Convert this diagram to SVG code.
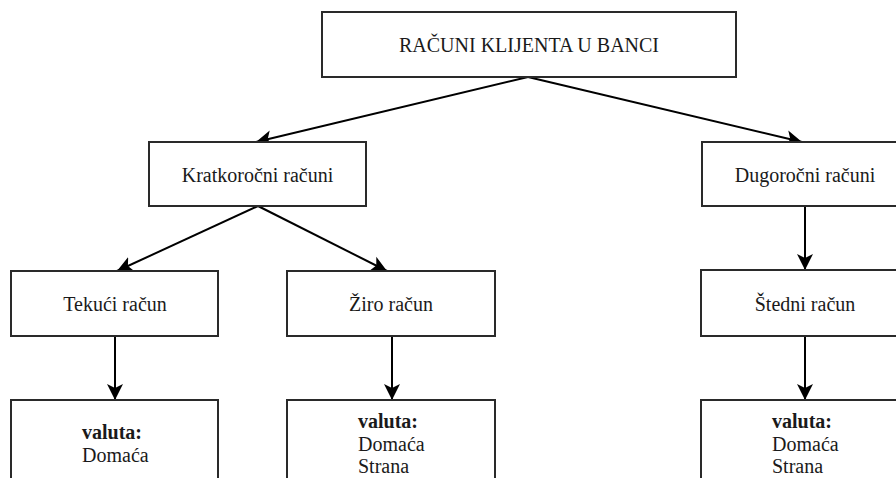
<svg xmlns="http://www.w3.org/2000/svg" width="896" height="478" viewBox="0 0 896 478">
<style>
.box{fill:#fff;stroke:#2a2a2a;stroke-width:2}
.t{font-family:"Liberation Serif","Times New Roman",serif;font-size:20px;fill:#1a1a1a}
.c{text-anchor:middle}
.b{font-weight:bold}
.ln{stroke:#000;stroke-width:2;fill:none}
</style>
<defs>
<marker id="ah" markerUnits="userSpaceOnUse" markerWidth="18" markerHeight="18" viewBox="0 0 18 18" refX="16" refY="9" orient="auto">
<path d="M0,1 L16,9 L0,17 L4,9 z" fill="#000"/>
</marker>
</defs>
<rect width="896" height="478" fill="#fff"/>
<g id="connectors">
<line class="ln" x1="528" y1="77" x2="256" y2="142" marker-end="url(#ah)"/>
<line class="ln" x1="528" y1="77" x2="802" y2="142" marker-end="url(#ah)"/>
<line class="ln" x1="258" y1="206" x2="117" y2="271" marker-end="url(#ah)"/>
<line class="ln" x1="258" y1="206" x2="387" y2="271" marker-end="url(#ah)"/>
<line class="ln" x1="805" y1="206" x2="805" y2="270" marker-end="url(#ah)"/>
<line class="ln" x1="115" y1="336" x2="115" y2="400" marker-end="url(#ah)"/>
<line class="ln" x1="392" y1="336" x2="392" y2="400" marker-end="url(#ah)"/>
<line class="ln" x1="805" y1="336" x2="805" y2="400" marker-end="url(#ah)"/>
</g>
<g id="root">
<rect class="box" x="322" y="12" width="414" height="65"/>
<text class="t c" x="529" y="52">RAČUNI KLIJENTA U BANCI</text>
</g>
<g id="kratkorocni">
<rect class="box" x="149" y="142" width="217" height="64"/>
<text class="t c" x="257.5" y="182">Kratkoročni računi</text>
</g>
<g id="dugorocni">
<rect class="box" x="702" y="142" width="217" height="64"/>
<text class="t c" x="805" y="182">Dugoročni računi</text>
</g>
<g id="tekuci">
<rect class="box" x="11" y="271" width="207" height="65"/>
<text class="t c" x="115" y="311">Tekući račun</text>
</g>
<g id="ziro">
<rect class="box" x="287" y="271" width="208" height="65"/>
<text class="t c" x="391" y="311">Žiro račun</text>
</g>
<g id="stedni">
<rect class="box" x="701" y="270" width="217" height="66"/>
<text class="t c" x="805" y="311">Štedni račun</text>
</g>
<g id="tekuci-valuta">
<rect class="box" x="11" y="400" width="207" height="90"/>
<text class="t b" x="82" y="439">valuta:</text>
<text class="t" x="82" y="462">Domaća</text>
</g>
<g id="ziro-valuta">
<rect class="box" x="287" y="400" width="208" height="90"/>
<text class="t b" x="358" y="428">valuta:</text>
<text class="t" x="358" y="451">Domaća</text>
<text class="t" x="358" y="473">Strana</text>
</g>
<g id="stedni-valuta">
<rect class="box" x="701" y="400" width="217" height="90"/>
<text class="t b" x="772" y="428">valuta:</text>
<text class="t" x="772" y="451">Domaća</text>
<text class="t" x="772" y="473">Strana</text>
</g>
</svg>
